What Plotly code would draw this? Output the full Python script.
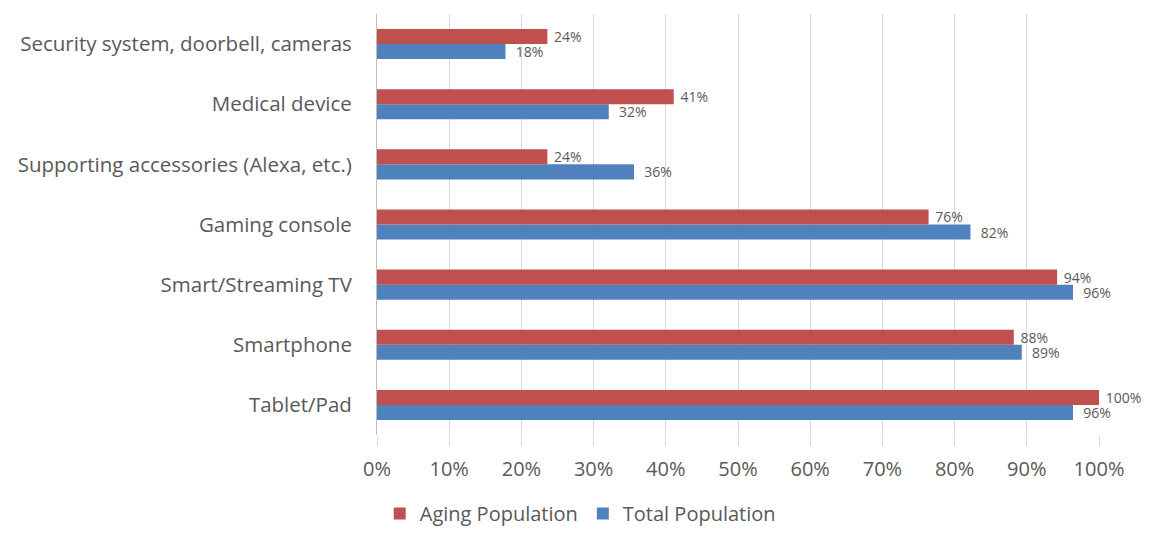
import plotly.graph_objects as go

categories = ["Tablet/Pad", "Smartphone", "Smart/Streaming TV", "Gaming console",
              "Supporting accessories (Alexa, etc.)", "Medical device",
              "Security system, doorbell, cameras"]
aging = [100, 88.2, 94.2, 76.4, 23.6, 41.1, 23.6]
total = [96.4, 89.3, 96.4, 82.2, 35.6, 32.1, 17.8]
xticks = list(range(0, 101, 10))
xtick_labels = [f"{v}%" for v in xticks]

RED = "#C0504D"
BLUE = "#4F81BD"
GRAY = "#595959"
FONT = "Open Sans"

fig = go.Figure()
fig.add_trace(go.Bar(
    y=categories, x=total, orientation="h", name="Total Population",
    marker=dict(color=BLUE, line=dict(width=0)),
    text=total, texttemplate="  %{x:.0f}%", textposition="outside",
    textfont=dict(size=14, color=GRAY, family=FONT), cliponaxis=False,
    constraintext="none"))
fig.add_trace(go.Bar(
    y=categories, x=aging, orientation="h", name="Aging Population",
    marker=dict(color=RED, line=dict(width=0)),
    text=aging, texttemplate=" %{x:.0f}%", textposition="outside",
    textfont=dict(size=14, color=GRAY, family=FONT), cliponaxis=False,
    constraintext="none"))

fig.update_layout(
    width=1149, height=533,
    margin=dict(l=377, r=50, t=14, b=98),
    barmode="group", bargap=0.5, bargroupgap=0,
    plot_bgcolor="white", paper_bgcolor="white",
    font=dict(family=FONT, color=GRAY, size=20),
    showlegend=True,
    legend=dict(orientation="h", xref="container", yref="container",
                x=0.505, xanchor="center", y=0.0, yanchor="bottom",
                traceorder="reversed", font=dict(size=20, color=GRAY, family=FONT),
                itemwidth=30),
    xaxis=dict(range=[0, 100], tickvals=xticks, ticktext=xtick_labels,
               showgrid=True, gridcolor="#d9d9d9", gridwidth=1,
               zeroline=False, showline=False,
               ticks="outside", ticklen=10, tickcolor="#d9d9d9",
               ticklabelstandoff=6,
               tickfont=dict(size=20, color=GRAY, family=FONT)),
    yaxis=dict(categoryorder="array", categoryarray=categories,
               showline=True, linecolor="#bfbfbf", linewidth=1,
               showgrid=False, ticks="", ticklabelstandoff=20,
               tickfont=dict(size=20.5, color=GRAY, family=FONT)),
)

fig.write_html("out.html")
